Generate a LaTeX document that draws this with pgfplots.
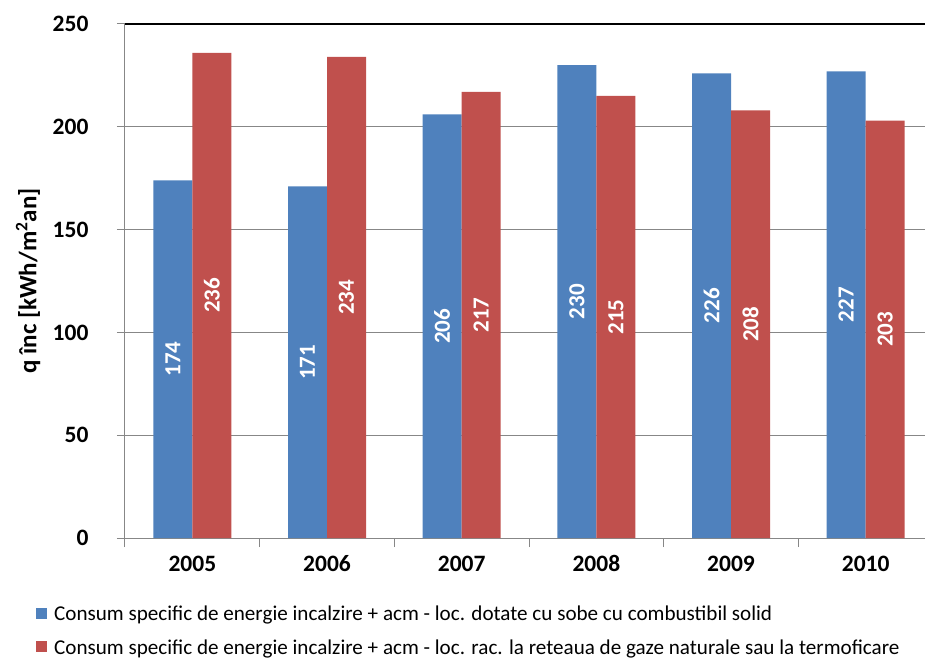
\documentclass[border=0pt]{standalone}
\usepackage{pgfplots}
\pgfplotsset{compat=1.18}
\usepackage{pgfplotstable}
\usepackage{fontspec}
\setmainfont{Carlito}
\definecolor{cblue}{HTML}{4F81BD}
\definecolor{cred}{HTML}{C0504D}
\definecolor{cgrid}{HTML}{878787}
\pgfplotstableread{
x a b
0 174 236
1 171 234
2 206 217
3 230 215
4 226 208
5 227 203
}\data
\begin{document}
\begin{tikzpicture}
\useasboundingbox (-125pt,-121pt) rectangle (800pt,538pt);
\begin{axis}[
  scale only axis, width=808pt, height=514pt,
  at={(0pt,0pt)}, anchor=south west,
  xmin=-0.5, xmax=5.5, ymin=0, ymax=250,
  axis x line*=bottom, axis y line*=left,
  axis line style={cgrid, line width=1pt},
  ytick={0,50,...,250},
  xtick={0,...,5},
  xticklabels={2005,2006,2007,2008,2009,2010},
  minor xtick={-0.5,0.5,...,5.5},
  major x tick style={draw=none},
  minor x tick style={cgrid, line width=1pt},
  minor tick length=9pt,
  major tick length=8pt,
  y tick style={cgrid, line width=1pt},
  tick align=outside,
  ymajorgrids, grid style={cgrid, line width=1pt},
  /pgf/number format/assume math mode=true,
  ticklabel style={font=\fontsize{23.5}{25}\selectfont\bfseries},
  xticklabel style={text height=1.6ex, text depth=0pt, yshift=-14pt},
  yticklabel style={xshift=-25pt},
  ylabel={q înc [kWh/m\textsuperscript{2}an]},
  ylabel style={font=\fontsize{25}{27}\selectfont\bfseries, at={(-97pt,0.5)}, anchor=center},
  legend style={at={(-89pt,-66pt)}, anchor=north west, draw=none, fill=none,
    font=\fontsize{21.1}{23}\selectfont, legend cell align=left,
    row sep=13pt, inner sep=0pt,
    /tikz/every odd column/.append style={column sep=5pt}},
  legend image code/.code={\fill[#1] (0pt,-5pt) rectangle (11pt,6pt);},
  clip=false,
]
\addplot[ybar, bar width=39pt, bar shift=-19.5pt, fill=cblue, draw=none] table[x=x,y=a]{\data};
\addlegendentry{Consum specific de energie incalzire + acm - loc. dotate cu sobe cu combustibil solid}
\addplot[ybar, bar width=39pt, bar shift=19.5pt, fill=cred, draw=none] table[x=x,y=b]{\data};
\addlegendentry{Consum specific de energie incalzire + acm - loc. rac. la reteaua de gaze naturale sau la termoficare}
\addplot[ybar, bar width=39pt, bar shift=0pt, draw=none, fill=none, forget plot,
  nodes near coords, point meta=explicit,
  every node near coord/.append style={anchor=center, rotate=90, white, font=\fontsize{23}{25}\selectfont\bfseries}]
  table[x expr=\thisrow{x}-0.1448, y expr=\thisrow{a}/2, meta=a]{\data};
\addplot[ybar, bar width=39pt, bar shift=0pt, draw=none, fill=none, forget plot,
  nodes near coords, point meta=explicit,
  every node near coord/.append style={anchor=center, rotate=90, white, font=\fontsize{23}{25}\selectfont\bfseries}]
  table[x expr=\thisrow{x}+0.1448, y expr=\thisrow{b}/2, meta=b]{\data};
\draw[black, line width=1.2pt] (rel axis cs:0,1) -- (rel axis cs:1,1);
\end{axis}
\end{tikzpicture}
\end{document}
